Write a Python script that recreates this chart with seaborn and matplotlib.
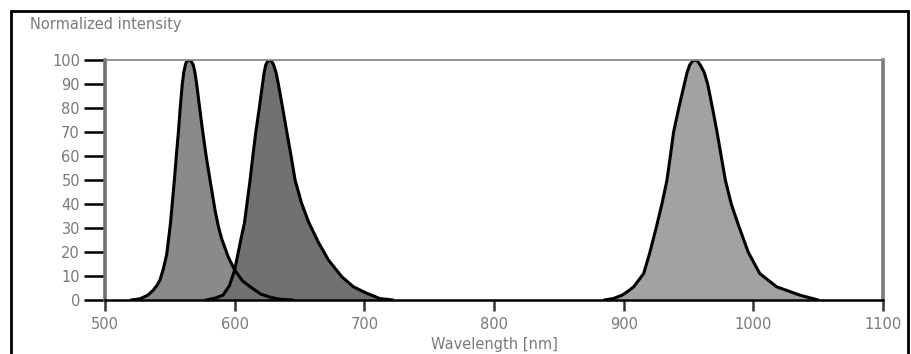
import matplotlib
matplotlib.use("Agg")
import matplotlib.pyplot as plt
import seaborn as sns
import pandas as pd
from matplotlib.patches import Rectangle

# ---- data ----
peak1_wl = [520, 527, 533, 537, 540, 542.5, 545, 547.6, 550.5, 553.5, 555, 556.6, 558, 559.6,
            560.8, 562, 563, 565, 566.5, 568, 569.3, 570.7, 573, 575.4, 578, 581, 585, 587.5,
            590, 595, 600, 606, 612, 620, 627, 635, 645]
peak1_i = [0, 0.5, 2, 4, 6, 8.5, 13, 19, 32, 50, 60, 70, 80, 90,
           95, 98, 99.5, 100, 99.5, 98, 95, 90, 80, 70, 60, 50, 37, 30.5,
           25.5, 18, 12.5, 8, 5.5, 2.5, 1.2, 0.3, 0]

peak2_wl = [578, 585, 591, 596, 600, 604.7, 607.5, 611.9, 614, 616.3, 619, 621.5, 622.8, 624,
            625.5, 627, 628.5, 630, 631.8, 633.7, 637, 640.2, 643.5, 646.6, 651.5, 657, 664.6,
            672.3, 682.6, 691.6, 701.9, 712, 722]
peak2_i = [0, 0.8, 2, 6, 12.5, 25, 32, 50, 60, 70, 80, 90, 95, 98,
           99.5, 100, 99.5, 98, 95, 90, 80, 70, 60, 50, 40.5, 32.5, 24,
           16.7, 9.7, 5.5, 2.8, 0.6, 0]

peak3_wl = [885, 892, 898.7, 903, 907.7, 915.4, 920, 925.5, 929.5, 933.4, 936, 938.5, 942.5,
            946.8, 949, 951, 953, 955, 957, 959, 962, 964.8, 968.5, 972, 975.2, 978.4, 983, 988,
            996, 1005, 1018, 1036, 1050]
peak3_i = [0, 0.6, 2, 3.5, 5.5, 11, 19.4, 31, 40, 50, 60, 70, 80,
           90, 95, 98, 99.5, 100, 99.5, 98, 95, 90, 80, 70, 60, 50, 40, 32,
           20, 11, 5.5, 2, 0]

peak_names = ["Peak 1", "Peak 2", "Peak 3"]
fill_colors = ["#8a8a8a", "#717171", "#a2a2a2"]

x_ticks = [500, 600, 700, 800, 900, 1000, 1100]
y_ticks = [0, 10, 20, 30, 40, 50, 60, 70, 80, 90, 100]

frames = []
for name, wl, inten in zip(peak_names, [peak1_wl, peak2_wl, peak3_wl], [peak1_i, peak2_i, peak3_i]):
    frames.append(pd.DataFrame({"Wavelength": wl, "Intensity": inten, "Peak": name}))
df = pd.concat(frames, ignore_index=True)

# ---- figure ----
sns.set_style("white")
plt.rcParams["font.family"] = ["DejaVu Sans"]
W, H = 912, 354
fig = plt.figure(figsize=(W / 100, H / 100), dpi=100)
ax = fig.add_axes([105 / W, 1 - 300 / H, (883 - 105) / W, (300 - 60) / H])

for name, col in zip(peak_names, fill_colors):
    sub = df[df["Peak"] == name]
    ax.fill_between(sub["Wavelength"], 0, sub["Intensity"], color=col, lw=0, zorder=1)

sns.lineplot(data=df, x="Wavelength", y="Intensity", hue="Peak", units="Peak",
             estimator=None, palette=["black"] * 3, legend=False, lw=2.2,
             ax=ax, zorder=3, solid_joinstyle="round", solid_capstyle="round")

ax.set_xlim(500, 1100)
ax.set_ylim(0, 100)
ax.set_xticks(x_ticks)
ax.set_yticks(y_ticks)
ax.set_xticklabels([str(t) for t in x_ticks])
ax.set_yticklabels([str(t) for t in y_ticks])
ax.set_xlabel("")
ax.set_ylabel("")

ax.spines["left"].set_color("#6f6f6f")
ax.spines["left"].set_linewidth(2.6)
ax.spines["right"].set_color("#7a7a7a")
ax.spines["right"].set_linewidth(2.6)
ax.spines["top"].set_color("#8a8a8a")
ax.spines["top"].set_linewidth(1.3)
ax.spines["bottom"].set_color("black")
ax.spines["bottom"].set_linewidth(1.8)
for s in ax.spines.values():
    s.set_visible(True)
    s.set_zorder(4)

ax.tick_params(axis="y", direction="out", length=15, width=1.8, color="black",
               labelcolor="#7a7a7a", labelsize=10.5, pad=3, left=True)
ax.tick_params(axis="x", direction="out", length=8, width=1.8, color="#333333",
               labelcolor="#7a7a7a", labelsize=10.5, pad=4, bottom=True)

fig.text(30 / W, 1 - 25 / H, "Normalized intensity", color="#7a7a7a", fontsize=10.5,
         ha="left", va="center")
fig.text(494 / W, 2 / H, "Wavelength [nm]", color="#7a7a7a", fontsize=10.5,
         ha="center", va="bottom")

border = Rectangle((11 / W, -0.1), (908 - 11) / W, 1.1 - 11 / H, transform=fig.transFigure,
                   fill=False, edgecolor="black", lw=2.0, clip_on=False)
fig.patches.append(border)

fig.savefig("out.png", dpi=100, facecolor="white")
